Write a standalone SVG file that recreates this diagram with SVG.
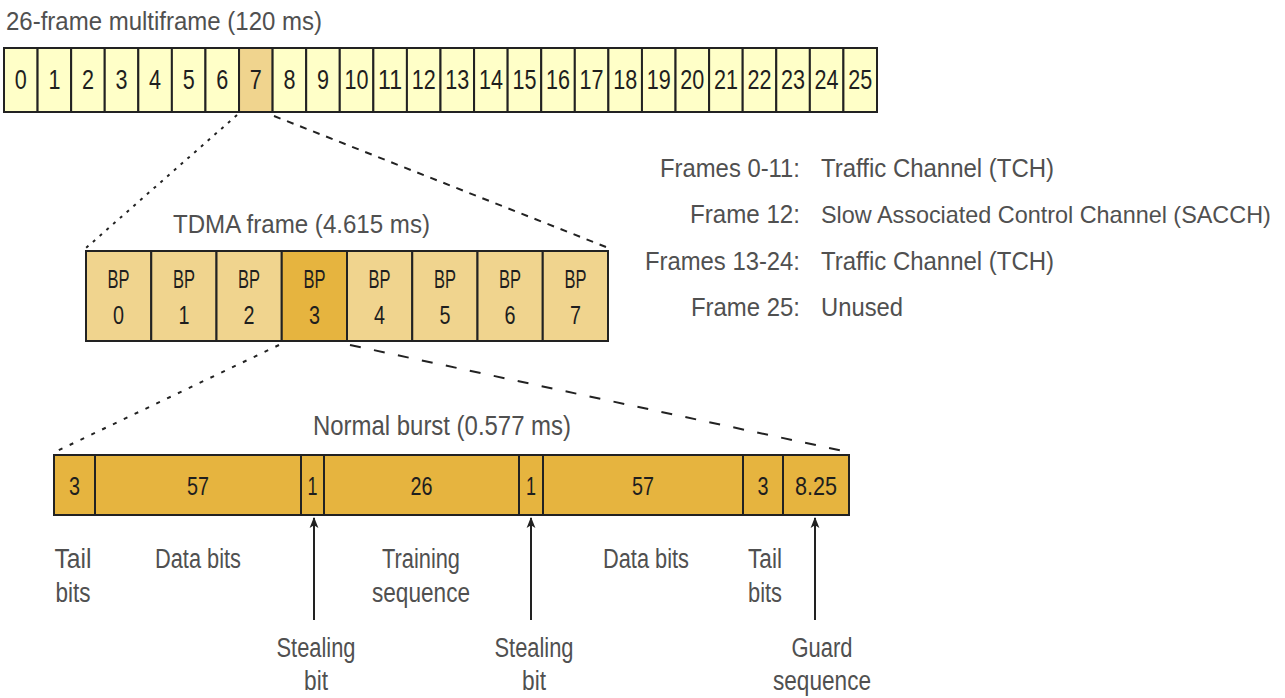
<svg xmlns="http://www.w3.org/2000/svg" width="1285" height="698" viewBox="0 0 1285 698">
<style>
.lbl{font-family:"Liberation Sans",Arial,sans-serif;fill:#505050;}
.cell{font-family:"Liberation Sans",Arial,sans-serif;fill:#1e1e1e;text-anchor:middle;}
.c0{fill:#FFFFC8;stroke:#222;stroke-width:2;}
.c1{fill:#F0D48E;stroke:#222;stroke-width:2;}
.c2{fill:#E6B43F;stroke:#222;stroke-width:2;}
.ln{stroke:#222;stroke-width:2;fill:none;}
.mid{text-anchor:middle;}
.end{text-anchor:end;}
</style>
<defs>
<marker id="ah" viewBox="0 0 10 10" refX="9" refY="5" markerWidth="11" markerHeight="11" markerUnits="userSpaceOnUse" orient="auto">
<path d="M0,1 L10,5 L0,9 L2.5,5 Z" fill="#222"/>
</marker>
</defs>
<rect width="1285" height="698" fill="#fff"/>

<g id="multiframe">
<text class="lbl" x="6" y="30" font-size="26" textLength="316" lengthAdjust="spacingAndGlyphs">26-frame multiframe (120 ms)</text>
<g font-size="28">
<rect class="c0" x="4" y="48" width="33.58" height="64"/><text class="cell" x="20.8" y="89" textLength="12" lengthAdjust="spacingAndGlyphs">0</text>
<rect class="c0" x="37.58" y="48" width="33.58" height="64"/><text class="cell" x="54.4" y="89" textLength="12" lengthAdjust="spacingAndGlyphs">1</text>
<rect class="c0" x="71.15" y="48" width="33.58" height="64"/><text class="cell" x="87.9" y="89" textLength="12" lengthAdjust="spacingAndGlyphs">2</text>
<rect class="c0" x="104.73" y="48" width="33.58" height="64"/><text class="cell" x="121.5" y="89" textLength="12" lengthAdjust="spacingAndGlyphs">3</text>
<rect class="c0" x="138.31" y="48" width="33.58" height="64"/><text class="cell" x="155.1" y="89" textLength="12" lengthAdjust="spacingAndGlyphs">4</text>
<rect class="c0" x="171.88" y="48" width="33.58" height="64"/><text class="cell" x="188.7" y="89" textLength="12" lengthAdjust="spacingAndGlyphs">5</text>
<rect class="c0" x="205.46" y="48" width="33.58" height="64"/><text class="cell" x="222.2" y="89" textLength="12" lengthAdjust="spacingAndGlyphs">6</text>
<rect class="c1" x="239.04" y="48" width="33.58" height="64"/><text class="cell" x="255.8" y="89" textLength="12" lengthAdjust="spacingAndGlyphs">7</text>
<rect class="c0" x="272.62" y="48" width="33.58" height="64"/><text class="cell" x="289.4" y="89" textLength="12" lengthAdjust="spacingAndGlyphs">8</text>
<rect class="c0" x="306.19" y="48" width="33.58" height="64"/><text class="cell" x="323" y="89" textLength="12" lengthAdjust="spacingAndGlyphs">9</text>
<rect class="c0" x="339.77" y="48" width="33.58" height="64"/><text class="cell" x="356.6" y="89" textLength="24" lengthAdjust="spacingAndGlyphs">10</text>
<rect class="c0" x="373.35" y="48" width="33.58" height="64"/><text class="cell" x="390.1" y="89" textLength="24" lengthAdjust="spacingAndGlyphs">11</text>
<rect class="c0" x="406.92" y="48" width="33.58" height="64"/><text class="cell" x="423.7" y="89" textLength="24" lengthAdjust="spacingAndGlyphs">12</text>
<rect class="c0" x="440.5" y="48" width="33.58" height="64"/><text class="cell" x="457.3" y="89" textLength="24" lengthAdjust="spacingAndGlyphs">13</text>
<rect class="c0" x="474.08" y="48" width="33.58" height="64"/><text class="cell" x="490.9" y="89" textLength="24" lengthAdjust="spacingAndGlyphs">14</text>
<rect class="c0" x="507.65" y="48" width="33.58" height="64"/><text class="cell" x="524.4" y="89" textLength="24" lengthAdjust="spacingAndGlyphs">15</text>
<rect class="c0" x="541.23" y="48" width="33.58" height="64"/><text class="cell" x="558" y="89" textLength="24" lengthAdjust="spacingAndGlyphs">16</text>
<rect class="c0" x="574.81" y="48" width="33.58" height="64"/><text class="cell" x="591.6" y="89" textLength="24" lengthAdjust="spacingAndGlyphs">17</text>
<rect class="c0" x="608.38" y="48" width="33.58" height="64"/><text class="cell" x="625.2" y="89" textLength="24" lengthAdjust="spacingAndGlyphs">18</text>
<rect class="c0" x="641.96" y="48" width="33.58" height="64"/><text class="cell" x="658.8" y="89" textLength="24" lengthAdjust="spacingAndGlyphs">19</text>
<rect class="c0" x="675.54" y="48" width="33.58" height="64"/><text class="cell" x="692.3" y="89" textLength="24" lengthAdjust="spacingAndGlyphs">20</text>
<rect class="c0" x="709.12" y="48" width="33.58" height="64"/><text class="cell" x="725.9" y="89" textLength="24" lengthAdjust="spacingAndGlyphs">21</text>
<rect class="c0" x="742.69" y="48" width="33.58" height="64"/><text class="cell" x="759.5" y="89" textLength="24" lengthAdjust="spacingAndGlyphs">22</text>
<rect class="c0" x="776.27" y="48" width="33.58" height="64"/><text class="cell" x="793.1" y="89" textLength="24" lengthAdjust="spacingAndGlyphs">23</text>
<rect class="c0" x="809.85" y="48" width="33.58" height="64"/><text class="cell" x="826.6" y="89" textLength="24" lengthAdjust="spacingAndGlyphs">24</text>
<rect class="c0" x="843.42" y="48" width="33.58" height="64"/><text class="cell" x="860.2" y="89" textLength="24" lengthAdjust="spacingAndGlyphs">25</text>
</g>
</g>

<g id="legend" class="lbl" font-size="26">
<text class="end" x="800" y="177" textLength="140" lengthAdjust="spacingAndGlyphs">Frames 0-11:</text>
<text x="821" y="177" textLength="233" lengthAdjust="spacingAndGlyphs">Traffic Channel (TCH)</text>
<text class="end" x="800" y="223" textLength="110" lengthAdjust="spacingAndGlyphs">Frame 12:</text>
<text x="821" y="223" font-size="23.4">Slow Associated Control Channel (SACCH)</text>
<text class="end" x="800" y="270" textLength="155" lengthAdjust="spacingAndGlyphs">Frames 13-24:</text>
<text x="821" y="270" textLength="233" lengthAdjust="spacingAndGlyphs">Traffic Channel (TCH)</text>
<text class="end" x="800" y="316" textLength="109" lengthAdjust="spacingAndGlyphs">Frame 25:</text>
<text x="821" y="316" textLength="82" lengthAdjust="spacingAndGlyphs">Unused</text>
</g>

<g id="tdma">
<text class="lbl" x="173" y="233" font-size="26" textLength="257" lengthAdjust="spacingAndGlyphs">TDMA frame (4.615 ms)</text>
<g font-size="25">
<rect class="c1" x="86" y="251" width="65.25" height="90"/><text class="cell" x="118.6" y="288" textLength="22" lengthAdjust="spacingAndGlyphs">BP</text><text class="cell" x="118.6" y="324" textLength="11" lengthAdjust="spacingAndGlyphs">0</text>
<rect class="c1" x="151.25" y="251" width="65.25" height="90"/><text class="cell" x="183.9" y="288" textLength="22" lengthAdjust="spacingAndGlyphs">BP</text><text class="cell" x="183.9" y="324" textLength="11" lengthAdjust="spacingAndGlyphs">1</text>
<rect class="c1" x="216.5" y="251" width="65.25" height="90"/><text class="cell" x="249.1" y="288" textLength="22" lengthAdjust="spacingAndGlyphs">BP</text><text class="cell" x="249.1" y="324" textLength="11" lengthAdjust="spacingAndGlyphs">2</text>
<rect class="c2" x="281.75" y="251" width="65.25" height="90"/><text class="cell" x="314.4" y="288" textLength="22" lengthAdjust="spacingAndGlyphs">BP</text><text class="cell" x="314.4" y="324" textLength="11" lengthAdjust="spacingAndGlyphs">3</text>
<rect class="c1" x="347" y="251" width="65.25" height="90"/><text class="cell" x="379.6" y="288" textLength="22" lengthAdjust="spacingAndGlyphs">BP</text><text class="cell" x="379.6" y="324" textLength="11" lengthAdjust="spacingAndGlyphs">4</text>
<rect class="c1" x="412.25" y="251" width="65.25" height="90"/><text class="cell" x="444.9" y="288" textLength="22" lengthAdjust="spacingAndGlyphs">BP</text><text class="cell" x="444.9" y="324" textLength="11" lengthAdjust="spacingAndGlyphs">5</text>
<rect class="c1" x="477.5" y="251" width="65.25" height="90"/><text class="cell" x="510.1" y="288" textLength="22" lengthAdjust="spacingAndGlyphs">BP</text><text class="cell" x="510.1" y="324" textLength="11" lengthAdjust="spacingAndGlyphs">6</text>
<rect class="c1" x="542.75" y="251" width="65.25" height="90"/><text class="cell" x="575.4" y="288" textLength="22" lengthAdjust="spacingAndGlyphs">BP</text><text class="cell" x="575.4" y="324" textLength="11" lengthAdjust="spacingAndGlyphs">7</text>
</g>
</g>

<g id="burst">
<text class="lbl" x="313" y="435" font-size="27" textLength="258" lengthAdjust="spacingAndGlyphs">Normal burst (0.577 ms)</text>
<g font-size="25">
<rect class="c2" x="54" y="455" width="41" height="60"/><text class="cell" x="74.5" y="495" textLength="11" lengthAdjust="spacingAndGlyphs">3</text>
<rect class="c2" x="95" y="455" width="206" height="60"/><text class="cell" x="198" y="495" textLength="22" lengthAdjust="spacingAndGlyphs">57</text>
<rect class="c2" x="301" y="455" width="23" height="60"/><text class="cell" x="312.5" y="495" textLength="10" lengthAdjust="spacingAndGlyphs">1</text>
<rect class="c2" x="324" y="455" width="195" height="60"/><text class="cell" x="421.5" y="495" textLength="22" lengthAdjust="spacingAndGlyphs">26</text>
<rect class="c2" x="519" y="455" width="24" height="60"/><text class="cell" x="531" y="495" textLength="10" lengthAdjust="spacingAndGlyphs">1</text>
<rect class="c2" x="543" y="455" width="200" height="60"/><text class="cell" x="643" y="495" textLength="22" lengthAdjust="spacingAndGlyphs">57</text>
<rect class="c2" x="743" y="455" width="40" height="60"/><text class="cell" x="763" y="495" textLength="11" lengthAdjust="spacingAndGlyphs">3</text>
<rect class="c2" x="783" y="455" width="66" height="60"/><text class="cell" x="816" y="495" textLength="42" lengthAdjust="spacingAndGlyphs">8.25</text>
</g>
</g>

<g id="burst-labels" class="lbl mid" font-size="27">
<text class="mid" x="73" y="568" textLength="37" lengthAdjust="spacingAndGlyphs">Tail</text>
<text class="mid" x="73" y="602" textLength="35" lengthAdjust="spacingAndGlyphs">bits</text>
<text class="mid" x="198" y="568" textLength="86" lengthAdjust="spacingAndGlyphs">Data bits</text>
<text class="mid" x="421" y="568" textLength="78" lengthAdjust="spacingAndGlyphs">Training</text>
<text class="mid" x="421" y="602" textLength="98" lengthAdjust="spacingAndGlyphs">sequence</text>
<text class="mid" x="316" y="657" textLength="79" lengthAdjust="spacingAndGlyphs">Stealing</text>
<text class="mid" x="316" y="690" textLength="24" lengthAdjust="spacingAndGlyphs">bit</text>
<text class="mid" x="534" y="657" textLength="79" lengthAdjust="spacingAndGlyphs">Stealing</text>
<text class="mid" x="534" y="690" textLength="24" lengthAdjust="spacingAndGlyphs">bit</text>
<text class="mid" x="646" y="568" textLength="86" lengthAdjust="spacingAndGlyphs">Data bits</text>
<text class="mid" x="765" y="568" textLength="34" lengthAdjust="spacingAndGlyphs">Tail</text>
<text class="mid" x="765" y="602" textLength="34" lengthAdjust="spacingAndGlyphs">bits</text>
<text class="mid" x="822" y="657" textLength="61" lengthAdjust="spacingAndGlyphs">Guard</text>
<text class="mid" x="822" y="690" textLength="98" lengthAdjust="spacingAndGlyphs">sequence</text>
</g>

<g id="connectors">
<line x1="237" y1="115" x2="86" y2="248" stroke="#222" stroke-width="2" stroke-dasharray="3 6"/>
<line x1="274" y1="116" x2="606" y2="247" stroke="#222" stroke-width="2" stroke-dasharray="7 7"/>
<line x1="279" y1="345" x2="55" y2="452" stroke="#222" stroke-width="2" stroke-dasharray="4 8"/>
<line x1="350" y1="345" x2="848" y2="452" stroke="#222" stroke-width="2" stroke-dasharray="11 13.5"/>
<line class="ln" x1="314" y1="620" x2="314" y2="518" marker-end="url(#ah)"/>
<line class="ln" x1="531" y1="620" x2="531" y2="518" marker-end="url(#ah)"/>
<line class="ln" x1="815" y1="620" x2="815" y2="518" marker-end="url(#ah)"/>
</g>
</svg>
